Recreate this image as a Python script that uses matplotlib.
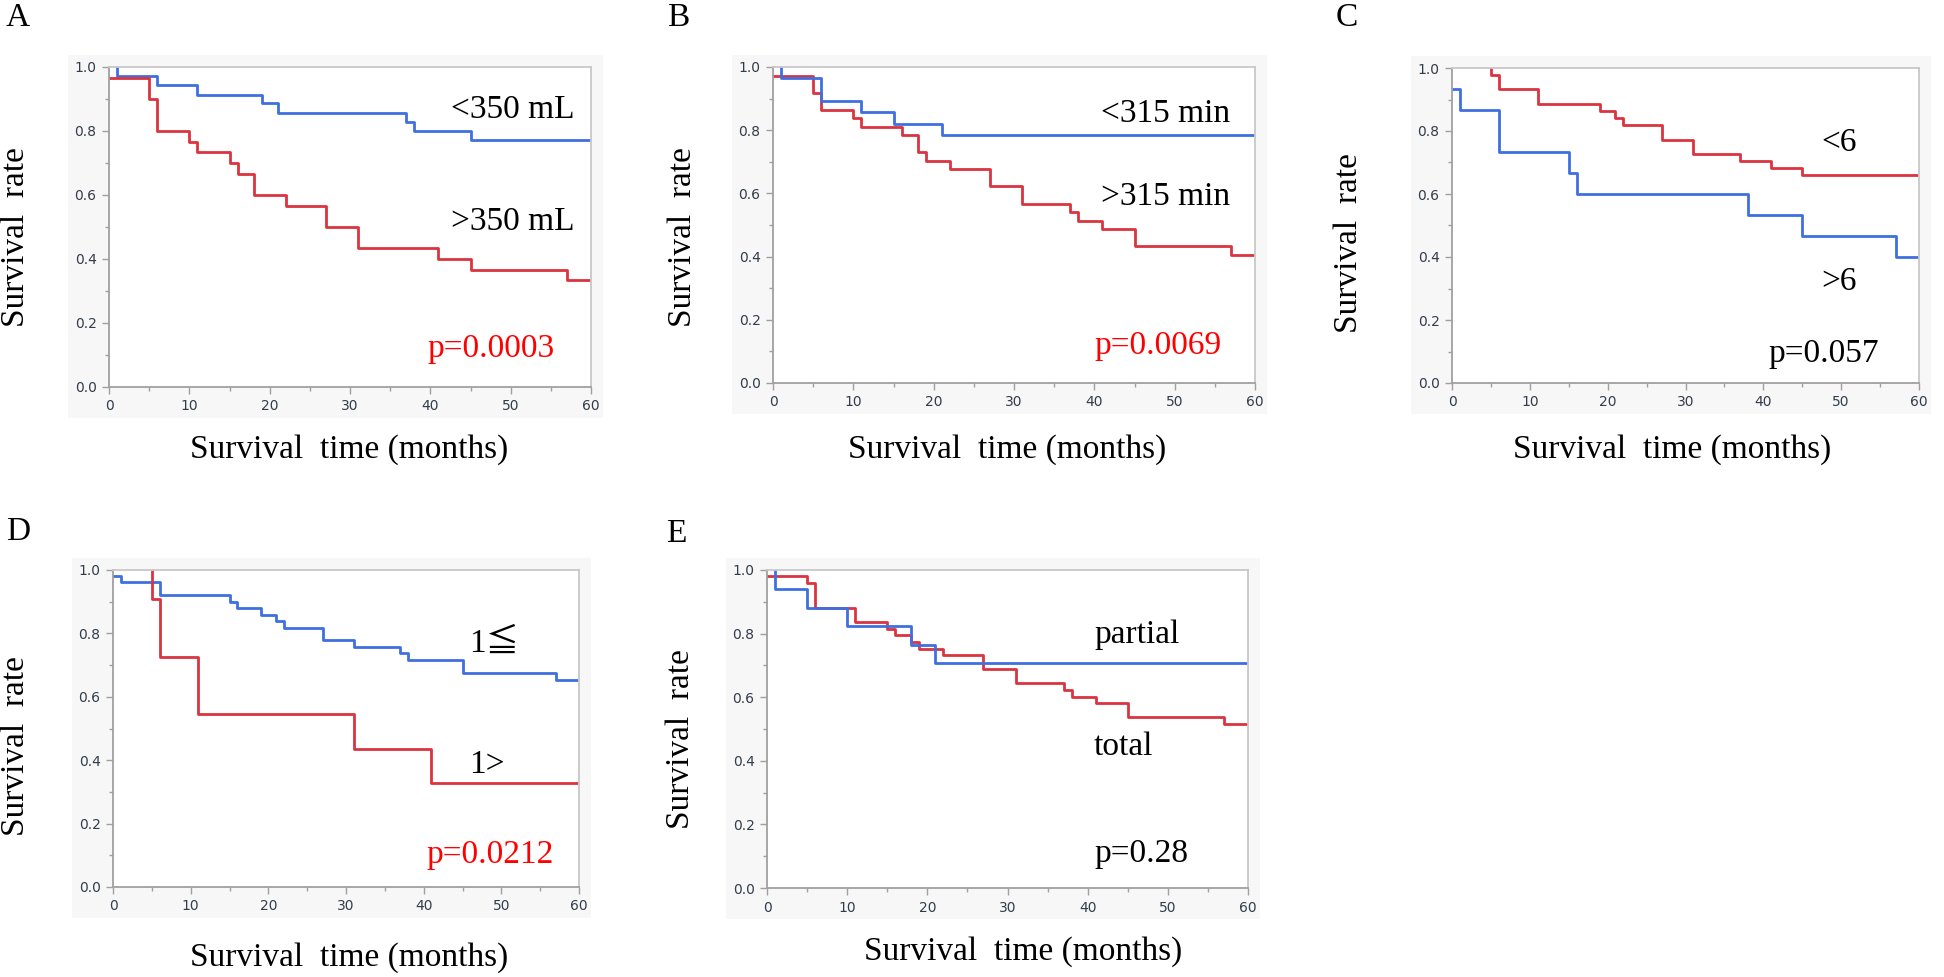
import matplotlib.pyplot as plt
from matplotlib.patches import Rectangle
from matplotlib.ticker import MultipleLocator, FormatStrFormatter

W, H = 1944, 977
BLUE = "#3f6fe0"
RED = "#d9343f"
SERIF = ["Liberation Serif", "Noto Sans CJK JP"]

# A: <350 mL vs >350 mL
a_blue_t = [1, 1, 6, 11, 19, 21, 37, 38, 45, 60]
a_blue_s = [1.0, 0.971, 0.943, 0.914, 0.886, 0.857, 0.829, 0.800, 0.771, 0.771]
a_red_t = [0, 5, 6, 10, 11, 15, 16, 18, 22, 27, 31, 41, 45, 57, 60]
a_red_s = [0.967, 0.900, 0.800, 0.767, 0.733, 0.700, 0.667, 0.600, 0.567,
           0.500, 0.433, 0.400, 0.367, 0.333, 0.333]

# B: <315 min vs >315 min
b_blue_t = [1, 1, 6, 11, 15, 21, 60]
b_blue_s = [1.0, 0.964, 0.893, 0.857, 0.821, 0.786, 0.786]
b_red_t = [0, 5, 6, 10, 11, 16, 18, 19, 22, 27, 31, 37, 38, 41, 45, 57, 60]
b_red_s = [0.973, 0.919, 0.865, 0.838, 0.811, 0.784, 0.730, 0.703, 0.676,
           0.622, 0.568, 0.541, 0.514, 0.486, 0.432, 0.405, 0.405]

# C: <6 vs >6
c_red_t = [5, 5, 6, 11, 19, 21, 22, 27, 31, 37, 41, 45, 60]
c_red_s = [1.0, 0.977, 0.932, 0.886, 0.864, 0.841, 0.818, 0.773, 0.727,
           0.705, 0.682, 0.659, 0.659]
c_blue_t = [0, 1, 6, 15, 16, 38, 45, 57, 60]
c_blue_s = [0.933, 0.867, 0.733, 0.667, 0.600, 0.533, 0.467, 0.400, 0.400]

# D: 1<= vs 1>
d_blue_t = [0, 1, 6, 15, 16, 19, 21, 22, 27, 31, 37, 38, 45, 57, 60]
d_blue_s = [0.981, 0.961, 0.920, 0.899, 0.879, 0.858, 0.838, 0.818, 0.778,
            0.758, 0.737, 0.716, 0.674, 0.653, 0.653]
d_red_t = [5, 5, 6, 11, 31, 41, 60]
d_red_s = [1.0, 0.909, 0.727, 0.545, 0.436, 0.327, 0.327]

# E: partial vs total
e_blue_t = [1, 1, 5, 10, 18, 21, 60]
e_blue_s = [1.0, 0.941, 0.882, 0.824, 0.765, 0.706, 0.706]
e_red_t = [0, 5, 6, 11, 15, 16, 18, 19, 22, 27, 31, 37, 38, 41, 45, 57, 60]
e_red_s = [0.981, 0.960, 0.879, 0.836, 0.815, 0.795, 0.774, 0.753, 0.733,
           0.690, 0.646, 0.623, 0.602, 0.583, 0.537, 0.516, 0.516]

panels = [
    dict(letter="A", box=(109, 67, 591, 387), letter_xy=(6, 2), ylab=(16, 237), xlab=(349, 450),
         curves=[(a_blue_t, a_blue_s, BLUE), (a_red_t, a_red_s, RED)],
         texts=[("<350 mL", 42.6, 0.841, "black"), (">350 mL", 42.6, 0.491, "black"),
                ("p=0.0003", 39.6, 0.094, "red")]),
    dict(letter="B", box=(773, 67, 1255, 383), letter_xy=(667, 2), ylab=(683, 237), xlab=(1007, 450),
         curves=[(b_red_t, b_red_s, RED), (b_blue_t, b_blue_s, BLUE)],
         texts=[("<315 min", 40.8, 0.826, "black"), (">315 min", 40.8, 0.563, "black"),
                ("p=0.0069", 40.0, 0.092, "red")]),
    dict(letter="C", box=(1452, 68, 1919, 383), letter_xy=(1336, 2), ylab=(1349, 243), xlab=(1672, 450),
         curves=[(c_red_t, c_red_s, RED), (c_blue_t, c_blue_s, BLUE)],
         texts=[("<6", 47.5, 0.737, "black"), (">6", 47.5, 0.295, "black"),
                ("p=0.057", 40.6, 0.067, "black")]),
    dict(letter="D", box=(113, 570, 579, 887), letter_xy=(6, 516), ylab=(16, 746), xlab=(349, 958),
         curves=[(d_blue_t, d_blue_s, BLUE), (d_red_t, d_red_s, RED)],
         texts=[("1\u2266", 45.8, 0.741, "black"), ("1>", 45.8, 0.36, "black"),
                ("p=0.0212", 40.4, 0.076, "red")]),
    dict(letter="E", box=(767, 570, 1248, 888), letter_xy=(666, 518), ylab=(681, 739), xlab=(1023, 952),
         curves=[(e_red_t, e_red_s, RED), (e_blue_t, e_blue_s, BLUE)],
         texts=[("partial", 40.8, 0.770, "black"), ("total", 40.8, 0.418, "black"),
                ("p=0.28", 40.8, 0.082, "black")]),
]

fig = plt.figure(figsize=(W / 100, H / 100), dpi=100)

for p in panels:
    x0, y0, x1, y1 = p["box"]
    # light gray panel behind the plot area (JMP style)
    bg = Rectangle(((x0 - 41) / W, 1 - (y1 + 31) / H), (x1 - x0 + 53) / W, (y1 - y0 + 43) / H,
                   transform=fig.transFigure, facecolor="#f7f7f7", edgecolor="none", zorder=-5)
    fig.patches.append(bg)

    ax = fig.add_axes([x0 / W, 1 - y1 / H, (x1 - x0) / W, (y1 - y0) / H])
    ax.set_facecolor("white")
    for t, s, c in p["curves"]:
        ax.step(t, s, where="post", color=c, linewidth=2.0)

    ax.set_xlim(0, 60)
    ax.set_ylim(0, 1)
    ax.xaxis.set_major_locator(MultipleLocator(10))
    ax.xaxis.set_minor_locator(MultipleLocator(5))
    ax.yaxis.set_major_locator(MultipleLocator(0.2))
    ax.yaxis.set_minor_locator(MultipleLocator(0.1))
    ax.yaxis.set_major_formatter(FormatStrFormatter("%.1f"))
    ax.tick_params(which="major", direction="out", length=5, width=1, color="#a0a0a0",
                   labelsize=10, labelcolor="#323c4a", pad=4)
    ax.tick_params(which="minor", direction="out", length=3, width=1, color="#a0a0a0")
    for side in ["left", "bottom"]:
        ax.spines[side].set_color("#a0a0a0")
        ax.spines[side].set_linewidth(1.3)
    for side in ["top", "right"]:
        ax.spines[side].set_color("#c8c8c8")
        ax.spines[side].set_linewidth(1.3)

    for txt, tx, ty, col in p["texts"]:
        ax.text(tx, ty, txt, color=col, family=SERIF, fontsize=24, ha="left", va="baseline")

    lx, ly = p["letter_xy"]
    fig.text(lx / W, 1 - ly / H, p["letter"], family=SERIF, fontsize=24, ha="left", va="top")
    yx, yy = p["ylab"]
    fig.text(yx / W, 1 - yy / H, "Survival  rate", family=SERIF, fontsize=24,
             rotation=90, ha="center", va="center")
    xx, xy = p["xlab"]
    fig.text(xx / W, 1 - xy / H, "Survival  time (months)", family=SERIF, fontsize=24,
             ha="center", va="center")

fig.savefig("out.png", dpi=100)
